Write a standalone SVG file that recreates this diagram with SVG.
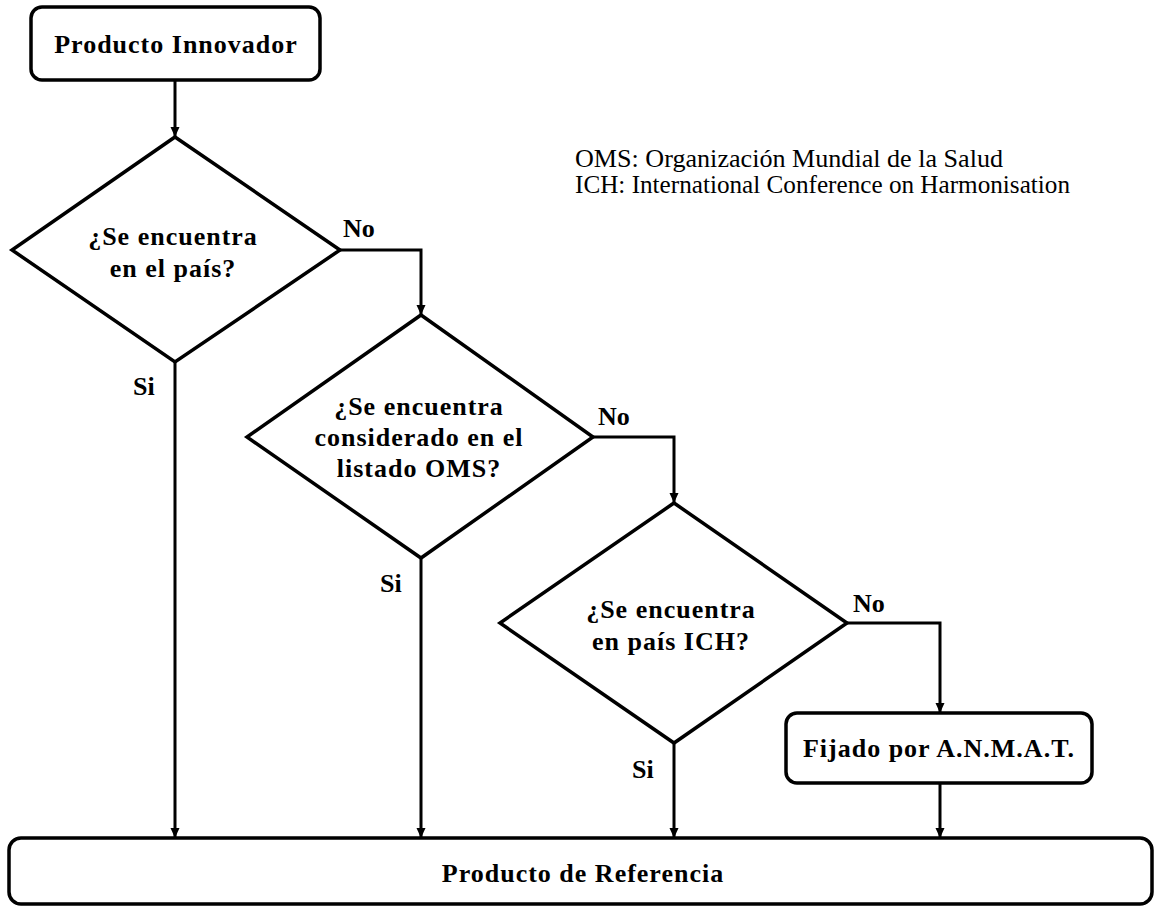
<svg xmlns="http://www.w3.org/2000/svg" width="1154" height="907" viewBox="0 0 1154 907">
<style>
.shape{fill:#fff;stroke:#000;stroke-width:3.5}
.conn{fill:none;stroke:#000;stroke-width:3}
.b{font-family:"Liberation Serif","Times New Roman",serif;font-weight:bold;font-size:26px;letter-spacing:1px;fill:#000}
.c{text-anchor:middle}
.lab{font-family:"Liberation Serif","Times New Roman",serif;font-weight:bold;font-size:26px;fill:#000}
.leg{font-family:"Liberation Serif","Times New Roman",serif;font-size:25px;fill:#000}
</style>
<defs>
<marker id="arr" markerUnits="userSpaceOnUse" markerWidth="12" markerHeight="12" refX="10" refY="4.5" orient="auto">
<path d="M0,0 L10,4.5 L0,9 Z" fill="#000"/>
</marker>
</defs>
<g id="connectors">
<path class="conn" d="M175,80 V137" marker-end="url(#arr)"/>
<path class="conn" d="M340,250 H421 V315" marker-end="url(#arr)"/>
<path class="conn" d="M593,437 H674 V503" marker-end="url(#arr)"/>
<path class="conn" d="M847,623 H940 V713" marker-end="url(#arr)"/>
<path class="conn" d="M175,362 V838" marker-end="url(#arr)"/>
<path class="conn" d="M421,558 V838" marker-end="url(#arr)"/>
<path class="conn" d="M674,743 V838" marker-end="url(#arr)"/>
<path class="conn" d="M940,783 V838" marker-end="url(#arr)"/>
<text class="lab" x="343" y="237">No</text>
<text class="lab" x="598" y="425">No</text>
<text class="lab" x="853" y="612">No</text>
<text class="lab" x="133" y="395">Si</text>
<text class="lab" x="380" y="592">Si</text>
<text class="lab" x="632" y="778">Si</text>
</g>
<g id="innovador">
<rect class="shape" x="31" y="7" width="289" height="73" rx="11"/>
<text class="b c" x="176" y="53">Producto Innovador</text>
</g>
<g id="d1">
<polygon class="shape" points="175,137 340,250 175,362 12,250"/>
<text class="b c" x="173" y="245">¿Se encuentra</text>
<text class="b c" x="173" y="277">en el país?</text>
</g>
<g id="d2">
<polygon class="shape" points="421,315 593,437 421,558 247,437"/>
<text class="b c" x="419" y="415">¿Se encuentra</text>
<text class="b c" x="419" y="446">considerado en el</text>
<text class="b c" x="419" y="477">listado OMS?</text>
</g>
<g id="d3">
<polygon class="shape" points="674,503 847,623 674,743 500,623"/>
<text class="b c" x="671" y="618">¿Se encuentra</text>
<text class="b c" x="671" y="650">en país ICH?</text>
</g>
<g id="anmat">
<rect class="shape" x="786" y="713" width="306" height="70" rx="11"/>
<text class="b c" x="939" y="757">Fijado por A.N.M.A.T.</text>
</g>
<g id="referencia">
<rect class="shape" x="9" y="838" width="1143" height="66" rx="12"/>
<text class="b c" x="583" y="882">Producto de Referencia</text>
</g>
<g id="legend">
<text class="leg" x="575" y="167" textLength="428" lengthAdjust="spacingAndGlyphs">OMS: Organización Mundial de la Salud</text>
<text class="leg" x="575" y="193" textLength="495" lengthAdjust="spacingAndGlyphs">ICH: International Conference on Harmonisation</text>
</g>
</svg>
